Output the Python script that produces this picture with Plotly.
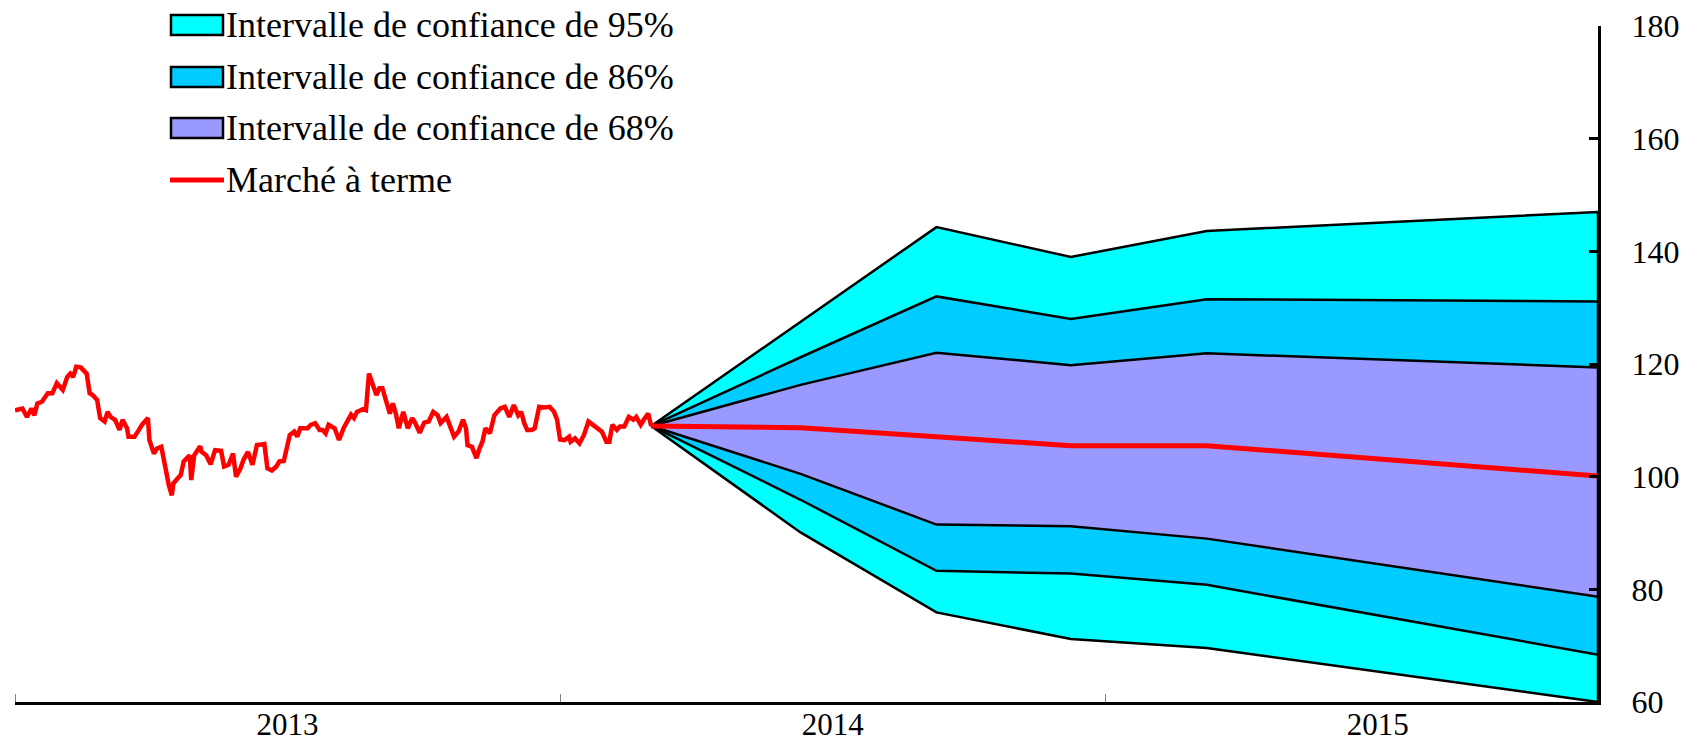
import plotly.graph_objects as go

# Historique de l'indice
hist_dates = [
    "2013-01-01", "2013-01-06", "2013-01-09", "2013-01-12", "2013-01-14", "2013-01-16", "2013-01-19",
    "2013-01-23", "2013-01-26", "2013-01-29", "2013-02-02", "2013-02-05", "2013-02-07", "2013-02-09",
    "2013-02-11", "2013-02-14", "2013-02-18", "2013-02-20", "2013-02-22", "2013-02-25", "2013-02-27",
    "2013-03-02", "2013-03-04", "2013-03-06", "2013-03-09", "2013-03-12", "2013-03-14", "2013-03-17",
    "2013-03-18", "2013-03-22", "2013-03-25", "2013-03-27", "2013-03-31", "2013-04-01", "2013-04-04",
    "2013-04-06", "2013-04-09", "2013-04-11", "2013-04-14", "2013-04-16", "2013-04-17", "2013-04-20",
    "2013-04-22", "2013-04-24", "2013-04-26", "2013-04-28", "2013-04-29", "2013-05-01", "2013-05-05",
    "2013-05-06", "2013-05-09", "2013-05-12", "2013-05-15", "2013-05-19", "2013-05-21", "2013-05-24",
    "2013-05-27", "2013-05-28", "2013-05-29", "2013-06-01", "2013-06-03", "2013-06-06", "2013-06-09",
    "2013-06-12", "2013-06-17", "2013-06-19", "2013-06-22", "2013-06-25", "2013-06-27", "2013-06-30",
    "2013-07-02", "2013-07-04", "2013-07-07", "2013-07-09", "2013-07-11", "2013-07-16", "2013-07-18",
    "2013-07-21", "2013-07-24", "2013-07-26", "2013-07-28", "2013-07-30", "2013-08-03", "2013-08-06",
    "2013-08-09", "2013-08-14", "2013-08-16", "2013-08-18", "2013-08-22", "2013-08-24", "2013-08-26",
    "2013-08-28", "2013-08-31", "2013-09-02", "2013-09-04", "2013-09-06", "2013-09-09", "2013-09-11",
    "2013-09-13", "2013-09-15", "2013-09-18", "2013-09-21", "2013-09-24", "2013-09-26", "2013-09-29",
    "2013-10-02", "2013-10-05", "2013-10-08", "2013-10-11", "2013-10-13", "2013-10-17", "2013-10-19",
    "2013-10-22", "2013-10-25", "2013-10-28", "2013-10-30", "2013-10-31", "2013-11-03", "2013-11-06",
    "2013-11-08", "2013-11-10", "2013-11-12", "2013-11-15", "2013-11-18", "2013-11-22", "2013-11-25",
    "2013-11-28", "2013-12-01", "2013-12-04", "2013-12-06", "2013-12-08", "2013-12-10", "2013-12-13",
    "2013-12-15", "2013-12-18", "2013-12-21", "2013-12-25", "2013-12-28", "2013-12-30", "2014-01-01",
    "2014-01-04", "2014-01-07", "2014-01-08", "2014-01-11", "2014-01-14", "2014-01-17", "2014-01-20",
    "2014-01-23", "2014-01-26", "2014-01-29", "2014-02-01", "2014-02-03", "2014-02-05", "2014-02-08",
    "2014-02-10", "2014-02-13", "2014-02-16", "2014-02-19", "2014-02-21", "2014-02-24", "2014-02-26",
    "2014-03-01", "2014-03-03",
]
hist_vals = [
    111.8, 112.1, 110.6, 112.1, 110.9, 113.0, 113.3,
    114.8, 114.8, 116.6, 115.4, 117.7, 118.3, 117.7,
    119.5, 119.4, 118.3, 114.8, 114.5, 113.6, 110.4,
    109.8, 111.5, 110.6, 110.1, 108.3, 110.1, 108.6,
    107.1, 107.1, 108.3, 109.2, 110.4, 106.5, 104.1,
    105.0, 105.3, 102.4, 98.5, 96.7, 98.8, 99.7,
    100.3, 102.7, 103.3, 103.8, 99.4, 103.8, 105.4,
    104.4, 103.8, 102.2, 104.7, 104.6, 101.8, 102.1,
    104.1, 101.8, 100.0, 101.5, 103.0, 104.4, 102.1,
    105.6, 105.8, 101.5, 101.1, 101.8, 102.7, 102.8,
    105.6, 107.4, 108.0, 107.1, 108.6, 108.6, 109.2,
    109.5, 108.3, 108.3, 107.7, 109.2, 108.6, 106.5,
    108.6, 111.0, 110.4, 111.5, 112.0, 111.8, 118.3,
    116.6, 114.5, 115.7, 115.7, 113.9, 111.2, 113.0,
    111.2, 108.6, 111.5, 108.6, 110.4, 109.5, 107.8,
    109.6, 109.8, 111.5, 110.9, 109.5, 110.6, 109.2,
    107.1, 108.0, 110.1, 108.6, 105.6, 105.3, 103.3,
    105.0, 106.2, 108.6, 107.7, 110.9, 112.1, 112.4,
    110.6, 112.7, 110.9, 111.5, 109.5, 108.3, 108.3,
    108.6, 112.4, 112.3, 112.4, 111.5, 110.1, 106.6,
    106.5, 107.1, 106.2, 106.8, 105.9, 107.4, 109.8,
    109.2, 108.6, 108.0, 106.2, 106.2, 109.2, 108.3,
    108.9, 108.9, 110.6, 110.1, 110.6, 109.2, 110.1,
    111.2, 109.0,
]

# Prevision : marche a terme et intervalles de confiance
fc_dates = ["2014-03-03", "2014-06-11", "2014-09-10", "2014-12-09", "2015-03-10", "2015-11-27"]
fwd = [109.0, 108.7, 107.1, 105.5, 105.5, 100.1]
up95 = [109.0, 127.5, 144.3, 139.0, 143.6, 147.0]
up86 = [109.0, 121.2, 132.0, 128.0, 131.5, 131.1]
up68 = [109.0, 116.3, 122.0, 119.8, 121.9, 119.4]
lo68 = [109.0, 100.5, 91.5, 91.2, 89.0, 78.7]
lo86 = [109.0, 95.9, 83.3, 82.8, 80.8, 68.4]
lo95 = [109.0, 90.1, 75.9, 71.2, 69.6, 60.0]

band_names = ["Intervalle de confiance de 95%", "Intervalle de confiance de 86%",
              "Intervalle de confiance de 68%"]
line_name = "Marché à terme"

BAND_COLORS = ["#00FFFF", "#00CCFF", "#9999FF"]
RED = "#FF0000"
FONT = "Liberation Serif, Times New Roman, serif"

W, H = 1699, 743
ML, MR, MT, MB = 15, 101, 26, 41
PW, PH = W - ML - MR, H - MT - MB


def px_x(x):
    return (x - ML) / PW


def px_y(y):
    return 1 - (y - MT) / PH


fig = go.Figure()

for name, up, lo, col in zip(band_names, [up95, up86, up68], [lo95, lo86, lo68], BAND_COLORS):
    fig.add_trace(go.Scatter(
        x=fc_dates + fc_dates[::-1], y=up + lo[::-1],
        fill="toself", fillcolor=col, mode="lines",
        line=dict(color="black", width=2.5), name=name, showlegend=False,
    ))

fig.add_trace(go.Scatter(x=fc_dates, y=fwd, mode="lines", line=dict(color=RED, width=5),
                         name=line_name, showlegend=False))
fig.add_trace(go.Scatter(x=hist_dates, y=hist_vals, mode="lines", line=dict(color=RED, width=4.5),
                         showlegend=False))

# legende dessinee a la main (cases avec bord noir comme dans l'original)
rows_y = [25, 77, 128, 180]
shapes, annots = [], []
for i, (name, col) in enumerate(zip(band_names, BAND_COLORS)):
    shapes.append(dict(type="rect", xref="paper", yref="paper",
                       x0=px_x(171), x1=px_x(223), y0=px_y(rows_y[i] + 10), y1=px_y(rows_y[i] - 10),
                       fillcolor=col, line=dict(color="black", width=2.5)))
    annots.append(dict(text=name, xref="paper", yref="paper", x=px_x(224), y=px_y(rows_y[i]),
                       xanchor="left", yanchor="middle", showarrow=False,
                       font=dict(family=FONT, size=36, color="black")))
shapes.append(dict(type="line", xref="paper", yref="paper", x0=px_x(170), x1=px_x(224),
                   y0=px_y(rows_y[3]), y1=px_y(rows_y[3]), line=dict(color=RED, width=5)))
annots.append(dict(text=line_name, xref="paper", yref="paper", x=px_x(224), y=px_y(rows_y[3]),
                   xanchor="left", yanchor="middle", showarrow=False,
                   font=dict(family=FONT, size=36, color="black")))

fig.update_layout(
    width=W, height=H, margin=dict(l=ML, r=MR, t=MT, b=MB, autoexpand=False),
    paper_bgcolor="white", plot_bgcolor="white",
    font=dict(family=FONT, color="black"),
    shapes=shapes, annotations=annots, showlegend=False,
)
fig.update_xaxes(
    type="date", range=["2013-01-01", "2015-11-27"], automargin=False,
    tick0="2013-01-01", dtick="M12", tickformat="%Y", ticklabelmode="period",
    ticks="inside", ticklen=8, tickwidth=1, tickcolor="#808080",
    showline=True, linecolor="black", linewidth=3, showgrid=False, zeroline=False,
    tickfont=dict(family=FONT, size=31), ticklabelstandoff=-7,
)
fig.update_yaxes(
    side="right", range=[60, 180], dtick=20, tick0=60, automargin=False,
    ticks="inside", ticklen=9, tickwidth=2.5, tickcolor="black",
    showline=True, linecolor="black", linewidth=3, showgrid=False, zeroline=False,
    tickfont=dict(family=FONT, size=32), ticklabelstandoff=24,
)

fig.write_html("out.html", config={"displayModeBar": False},
               post_script="document.body.style.margin='0';")
